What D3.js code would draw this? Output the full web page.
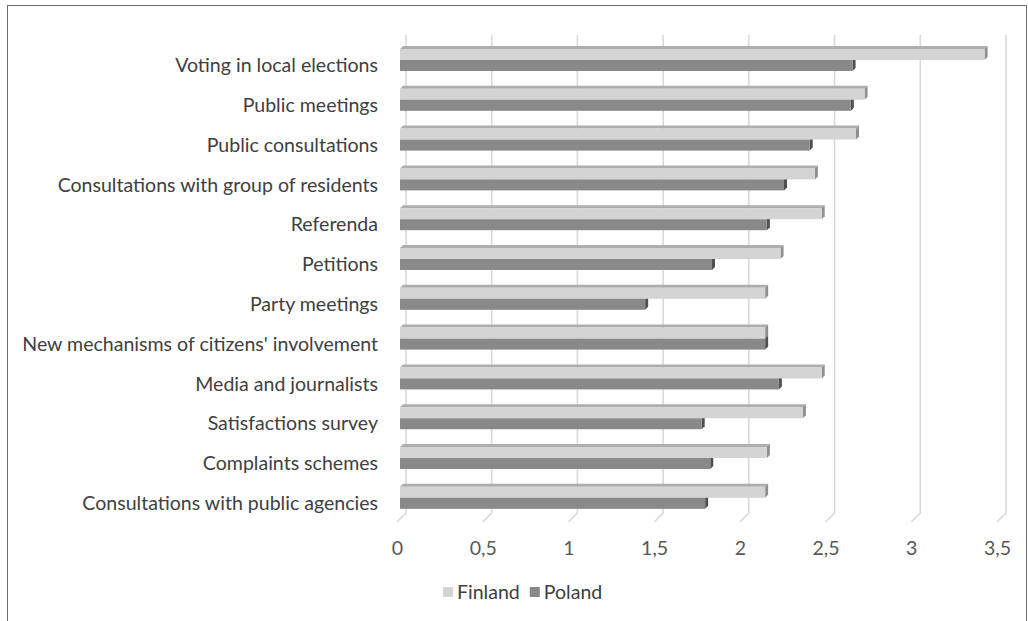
<!DOCTYPE html>
<html>
<head>
<meta charset="utf-8">
<script src="https://cdn.jsdelivr.net/npm/d3@7/dist/d3.min.js"></script>
<style>
  html, body { margin: 0; padding: 0; background: #fff; }
  svg { display: block; }
</style>
</head>
<body>
<svg id="chart" width="1028" height="621"></svg>
<script>
const categories = [
  "Voting in local elections",
  "Public meetings",
  "Public consultations",
  "Consultations with group of residents",
  "Referenda",
  "Petitions",
  "Party meetings",
  "New mechanisms of citizens' involvement",
  "Media and journalists",
  "Satisfactions survey",
  "Complaints schemes",
  "Consultations with public agencies"
];
const finland = [3.41, 2.71, 2.66, 2.42, 2.46, 2.22, 2.13, 2.13, 2.46, 2.35, 2.14, 2.13];
const poland  = [2.64, 2.63, 2.39, 2.24, 2.14, 1.82, 1.43, 2.13, 2.21, 1.76, 1.81, 1.78];
const tickValues = [0, 0.5, 1, 1.5, 2, 2.5, 3, 3.5];
const tickLabels = ["0", "0,5", "1", "1,5", "2", "2,5", "3", "3,5"];
const seriesNames = ["Finland", "Poland"];

const svg = d3.select("#chart");
const FONT = "Lato, 'Open Sans', 'Liberation Sans', sans-serif";

// border
svg.append("rect").attr("x", 7.5).attr("y", 5.5).attr("width", 1019).attr("height", 620)
  .attr("fill", "none").attr("stroke", "#6b6b6b").attr("stroke-width", 1);

// scales
const x = d3.scaleLinear().domain([0, 3.5]).range([0, 600]);
const y = d3.scaleBand().domain(categories).range([40.6, 518.2]);
const backX0 = 406, barX0 = 400, frontX0 = 397;
const gridTop = 35, gridBot = 513, floorDepth = 9;

// gridlines (back wall + floor diagonals)
const grid = svg.append("g");
tickValues.forEach(v => {
  const gx = backX0 + x(v);
  grid.append("path")
    .attr("d", `M${gx},${gridTop} L${gx},${gridBot} L${gx - floorDepth},${gridBot + floorDepth}`)
    .attr("fill", "none").attr("stroke", "#d9d9d9").attr("stroke-width", 1.6);
});

// font fitting: measure longest label
const probe = svg.append("text").attr("font-family", FONT).attr("font-size", 20)
  .text("New mechanisms of citizens' involvement");
const w = probe.node().getComputedTextLength();
probe.remove();
const fs = 20 * 356 / w;

// axis tick labels (front floor edge)
const xAxis = d3.axisBottom(d3.scaleLinear().domain([0, 3.5]).range([frontX0, frontX0 + 600]))
  .tickValues(tickValues)
  .tickFormat((d, i) => tickLabels[i])
  .tickSize(0).tickPadding(0);
const axG = svg.append("g").attr("transform", `translate(0, 538)`).call(xAxis);
axG.select(".domain").remove();
axG.selectAll("text").attr("font-family", FONT).attr("font-size", fs)
  .attr("fill", "#595959").attr("dy", "0.85em");

// category labels
const yAxis = d3.axisLeft(y).tickSize(0).tickPadding(0);
const ayG = svg.append("g").attr("transform", `translate(378, 5.5)`).call(yAxis);
ayG.select(".domain").remove();
ayG.selectAll("text").attr("font-family", FONT).attr("font-size", fs)
  .attr("fill", "#404040").attr("dy", "0.32em");

// 3D bars
const d = 3, barH = 11;
const styles = {
  Finland: { front: "#d4d4d4", top: "#aeaeae", side: "#8f8f8f" },
  Poland:  { front: "#898989", top: "#777777", side: "#505050" }
};
function bar(g, v, yTop, st) {
  const x0 = barX0, x1 = barX0 + x(v), yB = yTop + barH;
  g.append("path").attr("d", `M${x0},${yTop} L${x0 + d},${yTop - d} L${x1 + d},${yTop - d} L${x1},${yTop} Z`)
    .attr("fill", st.top);
  g.append("path").attr("d", `M${x1},${yTop} L${x1 + d},${yTop - d} L${x1 + d},${yB - d} L${x1},${yB} Z`)
    .attr("fill", st.side);
  g.append("rect").attr("x", x0).attr("y", yTop).attr("width", x1 - x0).attr("height", barH)
    .attr("fill", st.front);
}
const bars = svg.append("g");
categories.forEach((c, i) => {
  const cy = y(c) + y.bandwidth() / 2;
  const g = bars.append("g");
  bar(g, poland[i], cy - 0.5, styles.Poland);
  bar(g, finland[i], cy - 11.5, styles.Finland);
});

// legend
const legend = svg.append("g").attr("transform", "translate(443, 592)");
let lx = 0;
seriesNames.forEach((name, i) => {
  legend.append("rect").attr("x", lx).attr("y", -5).attr("width", 10).attr("height", 10)
    .attr("fill", styles[name].front);
  const t = legend.append("text").attr("x", lx + 14).attr("y", 0).attr("dy", "0.35em")
    .attr("font-family", FONT).attr("font-size", fs).attr("fill", "#404040").text(name);
  lx += 14 + t.node().getComputedTextLength() + 10;
});
</script>
</body>
</html>
